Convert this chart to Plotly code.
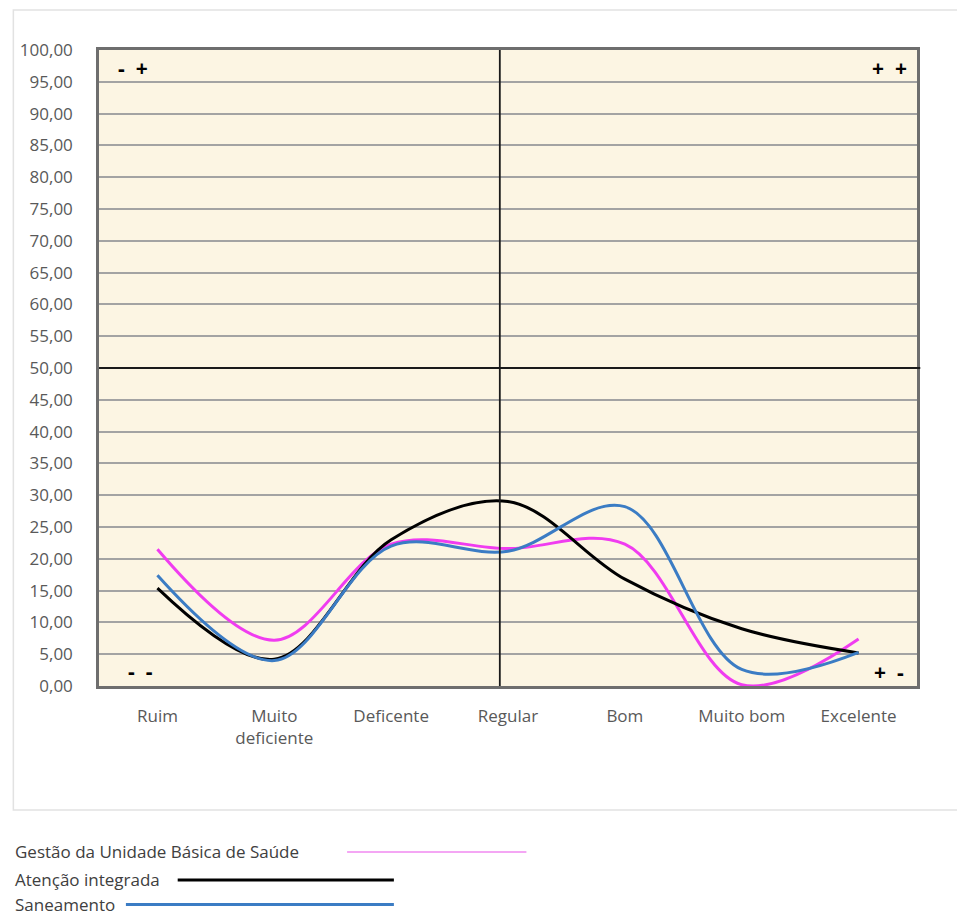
import plotly.graph_objects as go

categories = ["Ruim", "Muito<br>deficiente", "Deficente", "Regular", "Bom", "Muito bom", "Excelente"]
gestao = [21.5, 7.2, 22.3, 21.6, 22.3, 0.2, 7.4]
atencao = [15.4, 4.2, 23.0, 29.0, 16.8, 9.0, 5.2]
saneamento = [17.4, 4.0, 22.0, 21.2, 28.2, 2.6, 5.3]
y_ticks = [i * 5 for i in range(21)]
y_tick_labels = [f"{v:.2f}".replace(".", ",") for v in y_ticks]

series_names = ["Gestão da Unidade Básica de Saúde", "Atenção integrada", "Saneamento"]
series_colors = ["#F03CF0", "#000000", "#3B7CC4"]
legend_colors = ["#F4A6F4", "#000000", "#3B7CC4"]

x_idx = list(range(len(categories)))

fig = go.Figure()
for name, vals, col in zip(series_names, [gestao, atencao, saneamento], series_colors):
    fig.add_trace(go.Scatter(
        x=x_idx, y=vals, mode="lines", name=name,
        line=dict(color=col, width=3, shape="spline", smoothing=1.0),
        showlegend=False, cliponaxis=True,
    ))

font_fam = "'Open Sans', Lato, sans-serif"

# the page body adds an 8px offset, so the figure is sized 957x909
fig.update_layout(
    width=957, height=909,
    margin=dict(l=88, r=48, t=42, b=231),
    paper_bgcolor="white",
    plot_bgcolor="#FCF5E3",
    font=dict(family=font_fam, color="#595959", size=17),
    xaxis=dict(
        range=[-0.5, 6.5], tickvals=x_idx, ticktext=categories,
        showgrid=False, zeroline=False,
        showline=True, linecolor="#6E6E6E", linewidth=2.5, mirror=True,
        ticks="", ticklabelstandoff=13,
        tickfont=dict(size=17, color="#595959", family=font_fam),
    ),
    yaxis=dict(
        range=[0, 100], tickvals=y_ticks, ticktext=y_tick_labels,
        showgrid=True, gridcolor="#A3A3A3", gridwidth=1.6, zeroline=False,
        showline=True, linecolor="#6E6E6E", linewidth=2.5, mirror=True,
        ticks="", ticklabelstandoff=20,
        tickfont=dict(size=17, color="#595959", family=font_fam),
    ),
)

shapes = []
# chart frame
shapes.append(dict(type="rect", xref="paper", yref="paper",
                   x0=-0.1047, x1=1.06, y0=-0.195, y1=1.063,
                   line=dict(color="#E2E2E2", width=1.5), fillcolor="rgba(0,0,0,0)", layer="below"))
# quadrant lines
shapes.append(dict(type="line", xref="paper", yref="y", x0=0, x1=1.004, y0=50, y1=50,
                   line=dict(color="#1A1A1A", width=1.8)))
shapes.append(dict(type="line", xref="x", yref="paper", x0=2.93, x1=2.93, y0=0, y1=1,
                   line=dict(color="#1A1A1A", width=1.8)))

annotations = []
for txt, xp, yp in [("-  +", 0.0414, 0.9717), ("+  +", 0.966, 0.9717),
                    ("-  -", 0.051, 0.0236), ("+  -", 0.966, 0.022)]:
    annotations.append(dict(text=f"<b>{txt}</b>", xref="paper", yref="paper", x=xp, y=yp,
                            showarrow=False, font=dict(size=21, color="#000000", family=font_fam),
                            xanchor="center", yanchor="middle"))

# custom legend
leg_rows = [
    (series_names[0], -0.261, 0.3033, 0.5225, legend_colors[0], 2),
    (series_names[1], -0.305, 0.0962, 0.3605, legend_colors[1], 3),
    (series_names[2], -0.3435, 0.0329, 0.3605, legend_colors[2], 3),
]
for name, yp, lx0, lx1, col, w in leg_rows:
    annotations.append(dict(text=name, xref="paper", yref="paper", x=-0.1047, y=yp,
                            showarrow=False, xanchor="left", yanchor="middle",
                            font=dict(size=17, color="#404040", family=font_fam)))
    shapes.append(dict(type="line", xref="paper", yref="paper", x0=lx0, x1=lx1, y0=yp, y1=yp,
                       line=dict(color=col, width=w)))

fig.update_layout(shapes=shapes, annotations=annotations)
fig.write_html("out.html")
